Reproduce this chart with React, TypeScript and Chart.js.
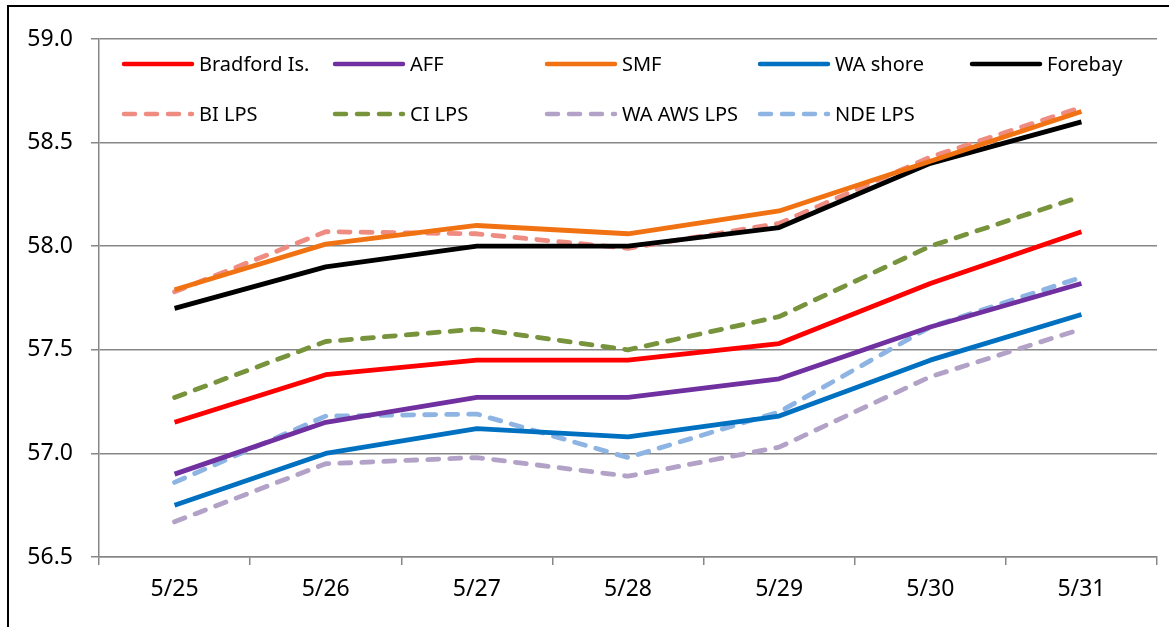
import React, { useEffect, useRef } from "react";
import { Chart, registerables } from "chart.js";

Chart.register(...registerables);

const categories = ["5/25", "5/26", "5/27", "5/28", "5/29", "5/30", "5/31"];
const yTicks = [56.5, 57.0, 57.5, 58.0, 58.5, 59.0];

const bradfordIs = [57.15, 57.38, 57.45, 57.45, 57.53, 57.82, 58.07];
const aff = [56.9, 57.15, 57.27, 57.27, 57.36, 57.61, 57.82];
const smf = [57.79, 58.01, 58.1, 58.06, 58.17, 58.41, 58.65];
const waShore = [56.75, 57.0, 57.12, 57.08, 57.18, 57.45, 57.67];
const forebay = [57.7, 57.9, 58.0, 58.0, 58.09, 58.4, 58.6];
const biLps = [57.78, 58.07, 58.06, 57.99, 58.11, 58.43, 58.67];
const ciLps = [57.27, 57.54, 57.6, 57.5, 57.66, 58.0, 58.24];
const waAwsLps = [56.67, 56.95, 56.98, 56.89, 57.03, 57.37, 57.6];
const ndeLps = [56.86, 57.18, 57.19, 56.98, 57.2, 57.61, 57.85];

const seriesNames = ["Bradford Is.", "AFF", "SMF", "WA shore", "Forebay", "BI LPS", "CI LPS", "WA AWS LPS", "NDE LPS"];
const seriesData = [bradfordIs, aff, smf, waShore, forebay, biLps, ciLps, waAwsLps, ndeLps];
const seriesColors = ["#FF0000", "#7030A0", "#F07212", "#0070C0", "#000000", "#EE8C82", "#77933C", "#B3A2C7", "#8DB4E2"];
const seriesDashed = [false, false, false, false, false, true, true, true, true];

const FONT = "'Noto Sans', 'Open Sans', sans-serif";

const legendPlugin = {
  id: "customLegend",
  afterDraw(chart: any) {
    const ctx = chart.ctx;
    ctx.save();
    // frame
    ctx.strokeStyle = "#000";
    ctx.lineWidth = 2;
    ctx.beginPath();
    ctx.moveTo(8, 700);
    ctx.lineTo(8, 6);
    ctx.lineTo(1200, 6);
    ctx.stroke();
    // legend
    const colX = [124, 335, 547, 760, 972];
    const rowY = [64, 114];
    ctx.font = "20px " + FONT;
    ctx.textBaseline = "middle";
    chart.data.datasets.forEach((ds: any, i: number) => {
      const col = i % 5;
      const row = Math.floor(i / 5);
      const x = colX[col];
      const y = rowY[row];
      ctx.beginPath();
      ctx.strokeStyle = ds.borderColor;
      ctx.lineWidth = 4.5;
      ctx.lineCap = "round";
      ctx.setLineDash(ds.borderDash || []);
      ctx.moveTo(x, y);
      ctx.lineTo(x + 68, y);
      ctx.stroke();
      ctx.setLineDash([]);
      ctx.fillStyle = "#000";
      ctx.fillText(ds.label, x + 75, y + 1);
    });
    ctx.restore();
  },
};

export default function App() {
  const ref = useRef<HTMLCanvasElement | null>(null);
  useEffect(() => {
    if (!ref.current) return;
    const chart = new Chart(ref.current, {
      type: "line",
      data: {
        labels: categories,
        datasets: seriesNames.map((name, i) => ({
          label: name,
          data: seriesData[i],
          borderColor: seriesColors[i],
          backgroundColor: seriesColors[i],
          borderWidth: 4.8,
          borderDash: seriesDashed[i] ? [11, 11] : [],
          borderCapStyle: seriesDashed[i] ? "round" : "butt",
          borderJoinStyle: "round",
          pointRadius: 0,
          tension: 0,
          fill: false,
        })),
      },
      options: {
        animation: false,
        responsive: false,
        events: [],
        layout: { padding: { top: 39, right: 12, left: 0, bottom: 0 } },
        plugins: { legend: { display: false }, tooltip: { enabled: false } },
        scales: {
          x: {
            type: "category",
            offset: true,
            grid: {
              display: true,
              drawOnChartArea: false,
              drawTicks: true,
              tickLength: 8,
              color: "#878787",
              lineWidth: 1.5,
              offset: true,
            },
            border: { display: true, color: "#878787", width: 1.5 },
            ticks: { color: "#000", font: { family: FONT, size: 23 }, padding: 11 },
            afterFit: (s: any) => {
              s.height = 70;
            },
          },
          y: {
            min: 56.5,
            max: 59,
            afterBuildTicks: (s: any) => {
              s.ticks = yTicks.map((v) => ({ value: v }));
            },
            grid: {
              color: "#878787",
              lineWidth: 1.5,
              drawTicks: true,
              tickLength: 8,
            },
            border: { display: true, color: "#878787", width: 1.5 },
            ticks: {
              color: "#000",
              font: { family: FONT, size: 23 },
              padding: 18,
              callback: (v: any) => Number(v).toFixed(1),
            },
            afterFit: (s: any) => {
              s.width = 99;
            },
          },
        },
      },
      plugins: [legendPlugin],
    } as any);
    return () => chart.destroy();
  }, []);
  return (
    <div style={{ position: "fixed", left: 0, top: 0, width: 1169, height: 627, background: "#fff" }}>
      <canvas ref={ref} width={1169} height={627} style={{ width: 1169, height: 627, display: "block" }} />
    </div>
  );
}
